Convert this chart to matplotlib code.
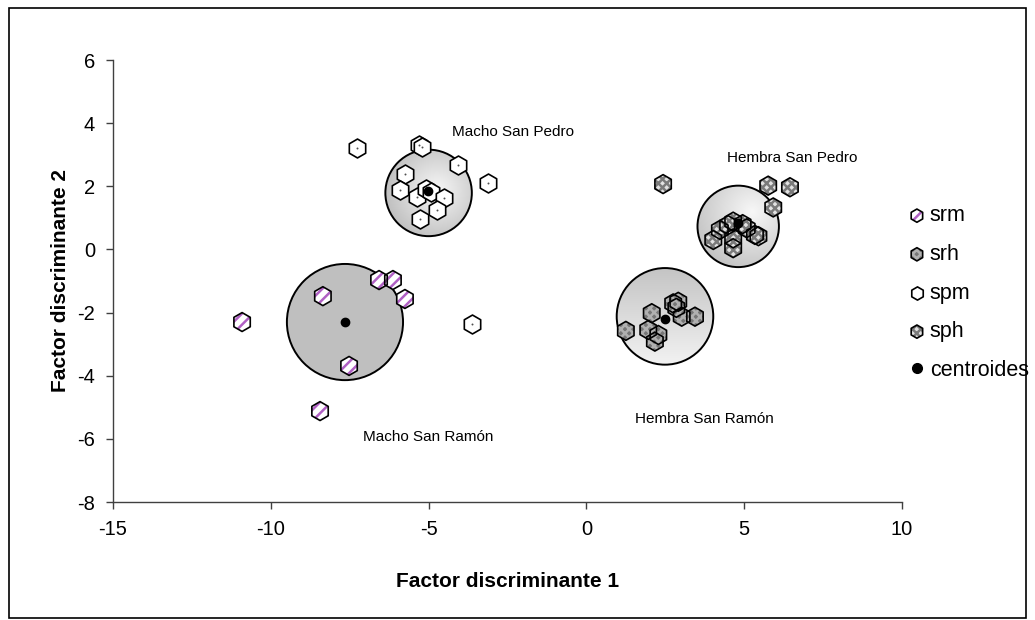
import numpy as np
import matplotlib
matplotlib.use("Agg")
import matplotlib.pyplot as plt
from matplotlib.patches import Circle, Rectangle
from matplotlib.lines import Line2D
from matplotlib.legend_handler import HandlerTuple

plt.rcParams['font.family'] = ['Liberation Sans', 'DejaVu Sans']
plt.rcParams['hatch.linewidth'] = 1.8
plt.rcParams['axes.unicode_minus'] = False

# ---------------- data ----------------
srm_x = [-10.91, -8.35, -6.57, -6.13, -5.75, -7.52, -8.44]
srm_y = [-2.30, -1.48, -0.97, -0.97, -1.57, -3.69, -5.12]

srh_x = [1.25, 2.07, 1.96, 2.28, 2.17, 2.75, 2.91, 3.02, 3.44, 2.85]
srh_y = [-2.58, -2.02, -2.55, -2.71, -2.92, -1.71, -1.66, -2.13, -2.13, -1.85]

spm_x = [-7.26, -5.30, -5.21, -4.06, -3.11, -5.75, -5.91, -5.38, -5.08, -4.92, -4.50, -4.72, -5.27, -3.63]
spm_y = [3.20, 3.31, 3.24, 2.67, 2.11, 2.39, 1.88, 1.65, 1.92, 1.82, 1.62, 1.25, 0.95, -2.36]

sph_x = [2.43, 5.76, 6.45, 5.92, 4.23, 4.02, 4.65, 5.08, 4.65, 4.65, 5.34, 5.45, 4.49, 4.95]
sph_y = [2.07, 2.02, 1.97, 1.33, 0.62, 0.30, 0.88, 0.67, 0.35, 0.04, 0.46, 0.42, 0.77, 0.80]

cent_x = [-7.65, 2.49, -5.01, 4.81]
cent_y = [-2.30, -2.21, 1.85, 0.85]

circ_x = [-7.65, 2.49, -5.00, 4.81]
circ_y = [-2.30, -2.12, 1.79, 0.73]
circ_r = [1.84, 1.53, 1.37, 1.29]
circ_style = ['solid', 'vertical', 'radial', 'radial_ur']

group_labels = ['Macho San Pedro', 'Hembra San Pedro', 'Macho San Ramón', 'Hembra San Ramón']
label_x = [-2.33, 6.53, -5.0, 3.75]
label_y = [3.72, 2.91, -5.94, -5.36]

x_ticks = [-15, -10, -5, 0, 5, 10]
y_ticks = [-8, -6, -4, -2, 0, 2, 4, 6]

# ---------------- figure ----------------
fig = plt.figure(figsize=(10.35, 6.2), dpi=100)
ax = fig.add_axes([113/1035, 1-502/620, (902-113)/1035, (502-60)/620])
ax.set_xlim(-15, 10)
ax.set_ylim(-8, 6)

# outer border
fig.add_artist(Rectangle((9/1035, 2/620), (1026-9)/1035, (612-2)/620,
                         transform=fig.transFigure, fill=False,
                         edgecolor='black', linewidth=1.2))

# circles with gradients
for cx, cy, r, st in zip(circ_x, circ_y, circ_r, circ_style):
    n = 200
    gx, gy = np.meshgrid(np.linspace(-1, 1, n), np.linspace(1, -1, n))
    if st == 'solid':
        val = np.full((n, n), 0.75)
    elif st == 'vertical':
        val = 0.77 + 0.18 * (1 - gy) / 2
    elif st == 'radial':
        d = np.sqrt((gx - 0.2) ** 2 + (gy - 0.05) ** 2)
        val = 0.97 - 0.22 * np.clip(d / 1.2, 0, 1)
    else:
        d = np.sqrt((gx - 0.35) ** 2 + (gy - 0.35) ** 2)
        val = 0.97 - 0.22 * np.clip(d / 1.6, 0, 1)
    img = np.dstack([val, val, val])
    im = ax.imshow(img, extent=(cx - r, cx + r, cy - r, cy + r), zorder=1,
                   interpolation='bilinear', aspect='auto')
    clip = Circle((cx, cy), r, transform=ax.transData)
    im.set_clip_path(clip)
    ax.add_patch(Circle((cx, cy), r, facecolor='none', edgecolor='black',
                        linewidth=1.4, zorder=2))

ms = 185
# srm
srm_a = ax.scatter(srm_x, srm_y, marker='h', s=ms, facecolor='white',
                   edgecolor='#b060c4', linewidths=0, hatch='///', zorder=3)
srm_b = ax.scatter(srm_x, srm_y, marker='h', s=ms, facecolor='none',
                   edgecolor='black', linewidths=1.2, zorder=4)
# srh
srh_a = ax.scatter(srh_x, srh_y, marker='h', s=ms, facecolor='#767676',
                   edgecolor='#b0b0b0', linewidths=0, hatch='xxxx', zorder=3)
srh_b = ax.scatter(srh_x, srh_y, marker='h', s=ms, facecolor='none',
                   edgecolor='black', linewidths=1.2, zorder=4)
# spm
spm_a = ax.scatter(spm_x, spm_y, marker='h', s=ms, facecolor='white',
                   edgecolor='black', linewidths=1.2, zorder=3)
spm_dot = ax.scatter(spm_x, spm_y, marker='o', s=2, color='#505050',
                     linewidths=0, zorder=4)
# sph
sph_a = ax.scatter(sph_x, sph_y, marker='h', s=ms, facecolor='#e2e2e2',
                   edgecolor='#7a7a7a', linewidths=0, hatch='xxxx', zorder=3)
sph_b = ax.scatter(sph_x, sph_y, marker='h', s=ms, facecolor='none',
                   edgecolor='black', linewidths=1.2, zorder=4)
# centroids
cen = ax.scatter(cent_x, cent_y, marker='o', s=36, color='black', zorder=5)

for t, x, y in zip(group_labels, label_x, label_y):
    ax.text(x, y, t, fontsize=11, ha='center', va='center', color='black')

# axes styling
for s in ['top', 'right']:
    ax.spines[s].set_visible(False)
for s in ['left', 'bottom']:
    ax.spines[s].set_linewidth(1.0)
    ax.spines[s].set_color('#404040')
ax.set_xticks(x_ticks)
ax.set_yticks(y_ticks)
ax.tick_params(direction='out', length=5, width=1.0, labelsize=14.5,
               colors='#404040', labelcolor='black', pad=8)
ax.set_xlabel('Factor discriminante 1', fontsize=15, fontweight='bold', labelpad=24)
ax.set_ylabel('Factor discriminante 2', fontsize=15, fontweight='bold', labelpad=5)

cen_proxy = Line2D([], [], linestyle='none', marker='o', markersize=10,
                   markerfacecolor='black', markeredgecolor='black')
handles = [(srm_a, srm_b), (srh_a, srh_b), (spm_a,), (sph_a, sph_b), cen_proxy]
labels = ['srm', 'srh', 'spm', 'sph', 'centroides']
fig.legend(handles, labels, loc='upper left', bbox_to_anchor=(904/1035, 1-201/620),
           frameon=False, fontsize=15.5, markerscale=0.7, handletextpad=0.2,
           labelspacing=0.82, handlelength=0.8, borderaxespad=0, borderpad=0.2,
           handler_map={tuple: HandlerTuple(ndivide=1)})

fig.savefig('out.png', dpi=100)
